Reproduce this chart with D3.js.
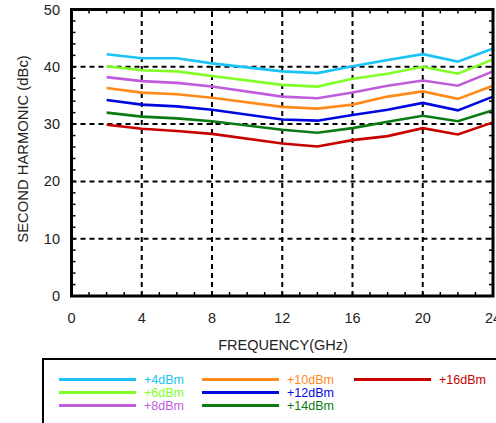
<!DOCTYPE html>
<html><head><meta charset="utf-8">
<script src="https://cdn.jsdelivr.net/npm/d3@7"></script>
<style>body{margin:0;background:#fff}svg{display:block}text{font-family:"Liberation Sans",Arial,sans-serif}</style>
</head><body><svg id="c" width="496" height="423"></svg>
<script>
const freqs = [2,4,6,8,12,14,16,18,20,22,24];
const p4  = [42.2,41.5,41.5,40.6,39.2,38.9,40.1,41.2,42.2,40.9,43.2];
const p6  = [40.1,39.4,39.2,38.4,36.85,36.55,37.9,38.8,40.0,38.8,41.3];
const p8  = [38.2,37.5,37.2,36.55,34.8,34.5,35.5,36.7,37.6,36.7,39.2];
const p10 = [36.3,35.5,35.2,34.6,33.0,32.7,33.4,34.8,35.7,34.4,36.7];
const p12 = [34.2,33.4,33.1,32.5,30.8,30.6,31.6,32.5,33.7,32.4,34.8];
const p14 = [32.0,31.3,31.0,30.5,29.0,28.5,29.3,30.4,31.45,30.5,32.4];
const p16 = [29.9,29.2,28.8,28.3,26.6,26.1,27.2,27.9,29.3,28.2,30.3];
const seriesNames = ["+4dBm","+6dBm","+8dBm","+10dBm","+12dBm","+14dBm","+16dBm"];
const seriesVals = [p4,p6,p8,p10,p12,p14,p16];
const colors = ["#19c3f5","#7fff26","#c05cdc","#ff8a1c","#0008e0","#0b7a12","#c80000"];
const xTicks = [0,4,8,12,16,20,24];
const yTicks = [0,10,20,30,40,50];

const svg = d3.select("#c");
const x = d3.scaleLinear().domain([0,24]).range([71.5,493]);
const y = d3.scaleLinear().domain([0,50]).range([296,9.5]);

// grid
const g = svg.append("g");
g.selectAll(".vg").data(xTicks.slice(1,-1)).enter().append("line")
 .attr("x1",d=>x(d)).attr("x2",d=>x(d)).attr("y1",y(0)).attr("y2",y(50))
 .attr("stroke","#000").attr("stroke-width",2).attr("stroke-dasharray","5,4");
g.selectAll(".hg").data(yTicks.slice(1,-1)).enter().append("line")
 .attr("x1",x(0)).attr("x2",x(24)).attr("y1",d=>y(d)).attr("y2",d=>y(d))
 .attr("stroke","#000").attr("stroke-width",2).attr("stroke-dasharray","5,4");

// minor ticks
const xm = d3.range(1,24), ym = d3.range(2,50,2);
g.selectAll(".xb").data(xm).enter().append("line")
 .attr("x1",d=>x(d)).attr("x2",d=>x(d)).attr("y1",y(0)).attr("y2",y(0)-4).attr("stroke","#000").attr("stroke-width",1.5);
g.selectAll(".xt").data(xm).enter().append("line")
 .attr("x1",d=>x(d)).attr("x2",d=>x(d)).attr("y1",y(50)).attr("y2",y(50)+4).attr("stroke","#000").attr("stroke-width",1.5);
g.selectAll(".yl").data(ym).enter().append("line")
 .attr("y1",d=>y(d)).attr("y2",d=>y(d)).attr("x1",x(0)).attr("x2",x(0)+4).attr("stroke","#000").attr("stroke-width",1.5);
g.selectAll(".yr").data(ym).enter().append("line")
 .attr("y1",d=>y(d)).attr("y2",d=>y(d)).attr("x1",x(24)).attr("x2",x(24)-4).attr("stroke","#000").attr("stroke-width",1.5);

// series
const line = d3.line().x((d,i)=>x(freqs[i])).y(d=>y(d));
svg.selectAll(".s").data(seriesVals).enter().append("path")
 .attr("d",d=>line(d)).attr("fill","none").attr("stroke",(d,i)=>colors[i]).attr("stroke-width",2.6);

// frame
svg.append("rect").attr("x",x(0)).attr("y",y(50)).attr("width",x(24)-x(0)).attr("height",y(0)-y(50))
 .attr("fill","none").attr("stroke","#000").attr("stroke-width",3);

// tick labels
svg.selectAll(".xl").data(xTicks).enter().append("text")
 .attr("x",d=>x(d)).attr("y",323).attr("text-anchor","middle").attr("font-size",14.5).attr("fill","#222").text(d=>d);
svg.selectAll(".yl2").data(yTicks).enter().append("text")
 .attr("x",60).attr("y",d=>y(d)+5).attr("text-anchor","end").attr("font-size",14.5).attr("fill","#222").text(d=>d);

svg.append("text").attr("x",283).attr("y",350).attr("text-anchor","middle").attr("font-size",14.5).attr("fill","#222").text("FREQUENCY(GHz)");
svg.append("text").attr("transform","translate(28,149) rotate(-90)").attr("text-anchor","middle").attr("font-size",14.8).attr("fill","#222").text("SECOND HARMONIC (dBc)");

// legend
svg.append("rect").attr("x",43).attr("y",359).attr("width",470).attr("height",80).attr("fill","none").attr("stroke","#000").attr("stroke-width",2);
const colX = [59,202,354], rowY = [379.5,392.5,405.5];
const lg = svg.selectAll(".lg").data(seriesNames).enter().append("g")
 .attr("transform",(d,i)=>`translate(${colX[Math.floor(i/3)]},${rowY[i%3]})`);
lg.append("line").attr("x1",0).attr("x2",77).attr("stroke",(d,i)=>colors[i]).attr("stroke-width",3);
lg.append("text").attr("x",85).attr("y",4.5).attr("font-size",12.5).attr("fill",(d,i)=>colors[i]).text(d=>d);
</script></body></html>
